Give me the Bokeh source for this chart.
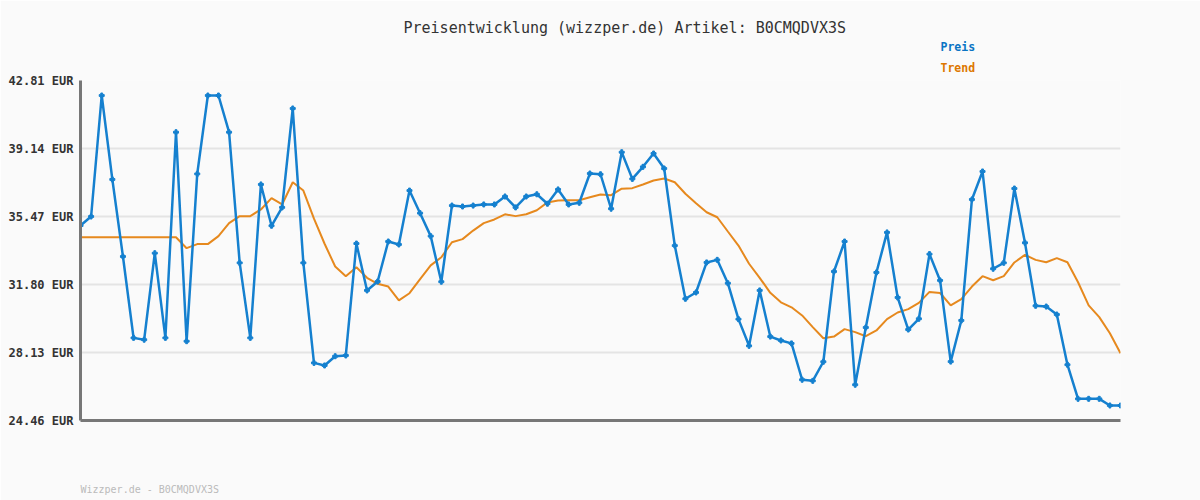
from bokeh.plotting import figure
from bokeh.models import FixedTicker, PrintfTickFormatter, Range1d, Title
from bokeh.embed import file_html
from bokeh.resources import INLINE

title_text = "Preisentwicklung (wizzper.de) Artikel: B0CMQDVX3S"
footer_text = "Wizzper.de - B0CMQDVX3S"
y_ticks = [24.46, 28.13, 31.80, 35.47, 39.14, 42.81]

preis = [34.98, 35.47, 42.00, 37.47, 33.31, 28.92, 28.82, 33.49, 28.92, 40.02,
         28.74, 37.77, 42.00, 42.00, 40.02, 32.97, 28.92, 37.20, 34.97, 35.96,
         41.30, 32.97, 27.57, 27.43, 27.93, 27.97, 34.01, 31.48, 31.96, 34.12,
         33.96, 36.87, 35.65, 34.41, 31.95, 36.06, 36.01, 36.06, 36.12, 36.12,
         36.55, 35.96, 36.55, 36.67, 36.16, 36.93, 36.12, 36.21, 37.79, 37.75,
         35.89, 38.94, 37.50, 38.15, 38.87, 38.06, 33.90, 31.03, 31.37, 32.99,
         33.13, 31.87, 29.93, 28.49, 31.48, 28.99, 28.78, 28.62, 26.66, 26.60,
         27.63, 32.50, 34.12, 26.39, 29.48, 32.45, 34.61, 31.10, 29.37, 29.95,
         33.44, 32.02, 27.64, 29.86, 36.39, 37.90, 32.65, 32.97, 36.98, 34.05,
         30.65, 30.61, 30.18, 27.47, 25.63, 25.63, 25.63, 25.27, 25.27]

trend = [34.35, 34.35, 34.35, 34.35, 34.35, 34.35, 34.35, 34.35, 34.35, 34.35,
         33.76, 33.98, 33.98, 34.41, 35.11, 35.49, 35.49, 35.85, 36.46, 36.12,
         37.32, 36.87, 35.35, 34.00, 32.77, 32.25, 32.73, 32.16, 31.84, 31.69,
         30.94, 31.33, 32.09, 32.83, 33.27, 34.08, 34.25, 34.71, 35.11, 35.31,
         35.59, 35.49, 35.59, 35.81, 36.23, 36.33, 36.35, 36.35, 36.51, 36.66,
         36.62, 36.97, 37.00, 37.20, 37.41, 37.52, 37.32, 36.70, 36.19, 35.70,
         35.43, 34.66, 33.90, 32.92, 32.16, 31.35, 30.84, 30.57, 30.13, 29.50,
         28.90, 28.99, 29.39, 29.23, 29.01, 29.32, 29.93, 30.29, 30.47, 30.81,
         31.40, 31.34, 30.67, 31.01, 31.69, 32.25, 32.03, 32.25, 32.99, 33.40,
         33.13, 33.00, 33.22, 33.00, 31.92, 30.67, 30.04, 29.17, 28.09]

idx = list(range(len(preis)))

BG = "#fafafa"
BLUE = "#1580cf"
ORANGE = "#e6891e"
BLUE_TXT = "#0a74c4"
ORANGE_TXT = "#dd7700"
FONT = "DejaVu Sans Mono"

p = figure(width=1200, height=500, output_backend="svg", toolbar_location=None,
           x_range=Range1d(0, len(preis) - 1), y_range=Range1d(y_ticks[0], y_ticks[-1]),
           min_border_left=80, min_border_right=80, min_border_top=80, min_border_bottom=80)
p.background_fill_color = BG
p.border_fill_color = BG
p.outline_line_color = None

p.xgrid.visible = False
p.ygrid.grid_line_color = "#e4e4e4"
p.ygrid.grid_line_width = 2

p.xaxis.ticker = FixedTicker(ticks=[])
p.xaxis.major_tick_line_color = None
p.xaxis.minor_tick_line_color = None
p.xaxis.major_tick_out = 0
p.xaxis.major_label_standoff = 0
p.xaxis.axis_line_color = "#777777"
p.xaxis.axis_line_width = 3

p.yaxis.ticker = FixedTicker(ticks=y_ticks)
p.yaxis.formatter = PrintfTickFormatter(format="%.2f EUR")
p.yaxis.major_tick_line_color = None
p.yaxis.minor_tick_line_color = None
p.yaxis.axis_line_color = "#777777"
p.yaxis.axis_line_width = 3
p.yaxis.major_label_text_font = FONT
p.yaxis.major_label_text_font_style = "bold"
p.yaxis.major_label_text_font_size = "12px"
p.yaxis.major_label_text_color = "#333333"
p.yaxis.major_label_standoff = 1

p.line(idx, trend, color=ORANGE, line_width=2)
p.line(idx, preis, color=BLUE, line_width=2.5)
p.scatter(idx, preis, marker="plus", size=5, color=BLUE)

p.add_layout(Title(text="Trend", align="left", offset=860, standoff=11,
                   text_font=FONT, text_font_size="11.5px", text_font_style="bold",
                   text_color=ORANGE_TXT), "above")
p.add_layout(Title(text="Preis", align="left", offset=860, standoff=0,
                   text_font=FONT, text_font_size="11.5px", text_font_style="bold",
                   text_color=BLUE_TXT), "above")
p.add_layout(Title(text=title_text, align="left", offset=323, standoff=2,
                   text_font=FONT, text_font_size="15px", text_font_style="normal",
                   text_color="#333333"), "above")
p.add_layout(Title(text="\n\n\n\n" + footer_text, align="left", offset=0, standoff=6,
                   text_font=FONT, text_font_size="10px", text_font_style="normal",
                   text_line_height=1.35, text_color="#bbbbbb"), "below")

open("out.html", "w").write(file_html(p, INLINE))
